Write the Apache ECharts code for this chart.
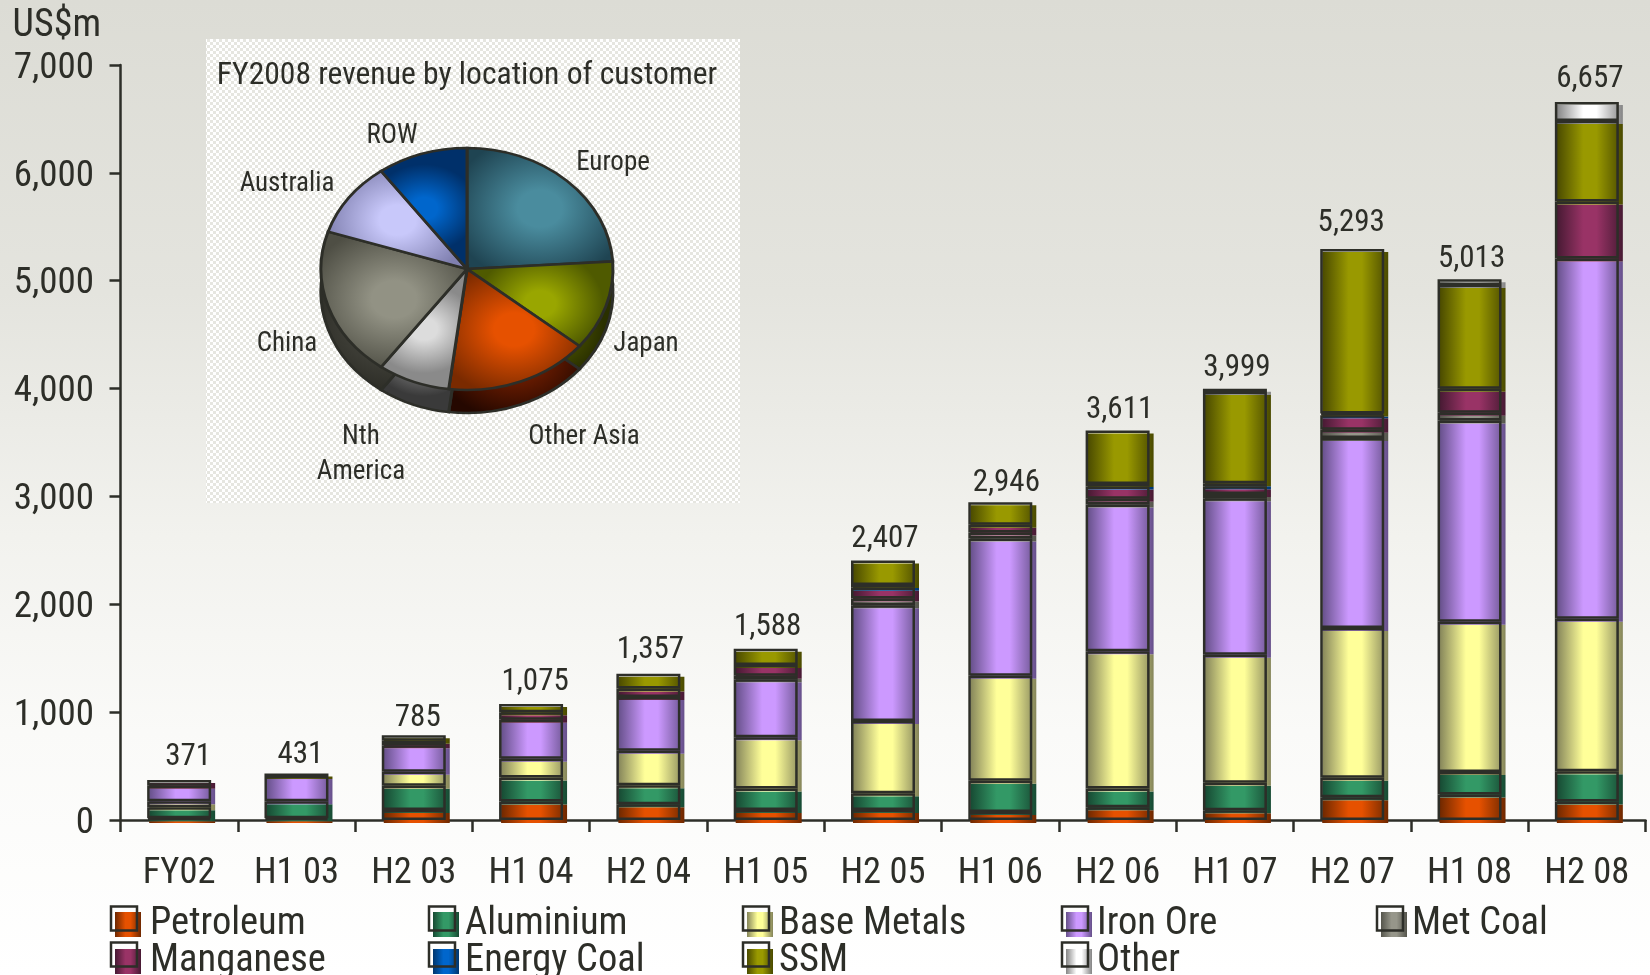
<!DOCTYPE html>
<html><head><meta charset="utf-8">
<style>html,body{margin:0;padding:0;background:#fff}#c{width:1650px;height:975px}</style>
<script src="https://cdn.jsdelivr.net/npm/echarts@6/dist/echarts.min.js"></script>
</head><body><div id="c"></div>
<script>
const categories = ['FY02','H1 03','H2 03','H1 04','H2 04','H1 05','H2 05','H1 06','H2 06','H1 07','H2 07','H1 08','H2 08'];
const totals     = [371,431,785,1075,1357,1588,2407,2946,3611,3999,5293,5013,6657];
const petroleum  = [16,16,93,171,146,93,93,75,118,90,211,236,171];
const aluminium  = [102,158,224,224,177,199,156,289,174,255,180,208,280];
const baseMetals = [56,0,131,174,320,476,669,973,1272,1188,1390,1393,1415];
const ironOre    = [143,233,246,361,498,538,1073,1273,1362,1449,1760,1866,3339];
const metCoal    = [0,0,0,0,0,31,62,56,53,40,78,72,0];
const manganese  = [54,0,40,68,78,100,100,72,112,72,134,224,529];
const energyCoal = [0,0,0,0,0,0,25,0,25,28,16,0,0];
const ssm        = [0,24,51,77,138,151,229,208,495,847,1524,961,746];
const other      = [0,0,0,0,0,0,0,0,0,30,0,53,177];
const pieNames  = ['Europe','Japan','Other Asia','Nth\nAmerica','China','Australia','ROW'];
const pieShares = [24,12,16,8,20,10,10];

const FONT = '"Roboto Condensed","Liberation Sans",sans-serif';
const INK = '#2d2e28';
const stackDefs = [
  ['Petroleum', petroleum, '#E65100', '#6e2800'],
  ['Aluminium', aluminium, '#339966', '#174a33'],
  ['Base Metals', baseMetals, '#FFFF99', '#85855a'],
  ['Iron Ore', ironOre, '#CC99FF', '#66508a'],
  ['Met Coal', metCoal, '#96968a', '#55554c'],
  ['Manganese', manganese, '#993366', '#471a33'],
  ['Energy Coal', energyCoal, '#0066CC', '#00366e'],
  ['SSM', ssm, '#999900', '#4a4a00'],
  ['Other', other, '#FFFFFF', '#858585']
];
const nn = a => a.map(v => v === 0 ? null : v);
const barFill = (c, e) => new echarts.graphic.LinearGradient(0,0,1,0,[
  {offset:0,color:e},{offset:.4,color:c},{offset:.6,color:c},{offset:1,color:e}]);

const plotW = 1525, plotH = 755, plotL = 120.5, plotT = 65;
const series = [];
stackDefs.forEach(([name, vals, c, e]) => {
  series.push({type:'bar', name, stack:'fill', xAxisIndex:1, yAxisIndex:1, data:nn(vals), barWidth:66,
    itemStyle:{color:barFill(c,e)}, silent:true, z:2});
});
stackDefs.forEach(([name, vals]) => {
  series.push({type:'bar', name, stack:'frame', xAxisIndex:0, yAxisIndex:0, data:nn(vals), barWidth:64,
    itemStyle:{color:'rgba(0,0,0,0)', borderColor:INK, borderWidth:2.5}, silent:true, z:3});
});
const labelNudgeX = [9,4,4,4,2,2,2,6,2,2,-1,2,3];
const labelNudgeY = [-1,3,4,0,-2,0,0,2,1,1,-4,1,-1];
series.push({type:'line', name:'Total', xAxisIndex:0, yAxisIndex:0,
  data:totals.map((v,i)=>({value:v, label:{offset:[labelNudgeX[i],labelNudgeY[i]]}})),
  symbol:'circle', symbolSize:0,
  lineStyle:{opacity:0}, itemStyle:{color:'rgba(0,0,0,0)'}, silent:true, z:4,
  label:{show:true, position:'top', distance:6, color:INK, fontFamily:FONT, fontSize:31,
    formatter:p => p.value.toLocaleString('en-US')}});

// inset pie
const pieCx = 467, pieCy = 269, pieRx = 146, pieRy = 121, pieDepth = 23;
const pieTop = [['#4a8c9e','#1f4452'],['#99a600','#4f5a00'],['#E65100','#7a2a00'],['#dcdcdc','#8a8a8a'],['#929284','#4e4e44'],['#c8c8fa','#8080b0'],['#0066CC','#00306a']];
const pieSide = [['#1f4452','#12303c'],['#5a6400','#2a3000'],['#7a2000','#250800'],['#8a8a8a','#3a3a3a'],['#4a4a42','#2a2a24'],['#6a6a90','#404060'],['#003a7a','#001a40']];
const pieLabelPos = [[613,163.5],[646,344.5],[584,437.5],[361,455],[287,344.5],[287,184.5],[392,136.5]];
const pieSum = pieShares.reduce((a,b)=>a+b,0);
function sliceAngles(i){
  let s = 0; for (let k=0;k<i;k++) s += pieShares[k];
  const a0 = -Math.PI/2 + s/pieSum*2*Math.PI;
  return [a0, a0 + pieShares[i]/pieSum*2*Math.PI];
}
function sector(i, dy, cols){
  const [a0,a1] = sliceAngles(i);
  return {type:'sector', x:pieCx, y:pieCy+dy, scaleY:pieRy/pieRx,
    shape:{cx:0,cy:0,r0:0,r:pieRx,startAngle:a0,endAngle:a1,clockwise:true},
    style:{fill:new echarts.graphic.RadialGradient(.5,.5,.6,[{offset:0,color:cols[0]},{offset:.25,color:cols[0]},{offset:1,color:cols[1]}]),
      stroke:INK, lineWidth:3}};
}
series.push({type:'custom', name:'PieSide', coordinateSystem:'none', data:pieShares, silent:true, z:5,
  renderItem:(p)=>sector(p.dataIndex, pieDepth, pieSide[p.dataIndex])});
series.push({type:'custom', name:'Pie', coordinateSystem:'none', data:pieShares, silent:true, z:6,
  renderItem:(p)=>{
    const i = p.dataIndex, pos = pieLabelPos[i];
    return {type:'group', children:[
      sector(i, 0, pieTop[i]),
      {type:'text', x:pos[0], y:pos[1], style:{text:pieNames[i], font:'27px '+FONT, fill:INK, align:'center', verticalAlign:'middle', lineHeight:35}}
    ]};
  }});

// legend layout
const legendCols = [111,429,743,1062,1377], legendRows = [905,942];
const legendFrameRows = [906.5,942.5];
const legendTextGap = [4,1,1,0,0];
const legendGrid = [[0,0],[1,0],[2,0],[3,0],[4,0],[0,1],[1,1],[2,1],[3,1]];
const legendOrder = ['Petroleum','Aluminium','Base Metals','Iron Ore','Met Coal','Manganese','Energy Coal','SSM','Other'];
const legends = legendOrder.map((n,i)=>({
  left:legendCols[legendGrid[i][0]]+4, top:legendRows[legendGrid[i][1]], data:[n], padding:0, icon:'rect',
  itemWidth:26, itemHeight:25, selectedMode:false,
  textStyle:{color:INK, fontFamily:FONT, fontSize:38.5, lineHeight:25, padding:[0,0,0,legendTextGap[legendGrid[i][0]]]}
}));
const swatchFrames = legendOrder.map((n,i)=>({type:'rect', z:20,
  shape:{x:legendCols[legendGrid[i][0]], y:legendFrameRows[legendGrid[i][1]], width:26, height:24},
  style:{fill:'rgba(0,0,0,0)', stroke:INK, lineWidth:2.5}}));

// dotted inset texture
const tile = document.createElement('canvas'); tile.width = 6; tile.height = 6;
const tc = tile.getContext('2d');
tc.fillStyle = '#ffffff'; tc.fillRect(0,0,6,6);
tc.fillStyle = '#e6e6e0'; tc.fillRect(0,0,3,3); tc.fillRect(3,3,3,3);

const axisStyle = {lineStyle:{color:INK, width:2.5}};
const option = {
  animation:false,
  backgroundColor:new echarts.graphic.LinearGradient(0,0,0,1,[
    {offset:0,color:'#dcdcd5'},{offset:.3,color:'#e4e4de'},{offset:.55,color:'#f2f2ee'},{offset:.75,color:'#fafaf8'},{offset:1,color:'#ffffff'}]),
  grid:[
    {left:plotL, top:plotT, width:plotW, height:plotH},
    {left:plotL+3, top:plotT+3, width:plotW, height:plotH}
  ],
  xAxis:[
    {type:'category', gridIndex:0, data:categories, axisLine:{show:true, ...axisStyle}, axisTick:{show:true, length:12, ...axisStyle},
     axisLabel:{color:INK, fontFamily:FONT, fontSize:36.5, margin:35, interval:0}},
    {type:'category', gridIndex:1, data:categories, show:false}
  ],
  yAxis:[
    {type:'value', gridIndex:0, min:0, max:7000, interval:1000, splitLine:{show:false},
     name:'US$m', nameLocation:'end', nameGap:20, nameTextStyle:{color:INK, fontFamily:FONT, fontSize:38, align:'right', padding:[0,19.5,0,0]},
     axisLine:{show:true, onZero:false, ...axisStyle}, axisTick:{show:true, length:11, ...axisStyle},
     axisLabel:{color:INK, fontFamily:FONT, fontSize:37, margin:26.5, verticalAlign:'top', lineHeight:7, formatter:v=>v.toLocaleString('en-US')}},
    {type:'value', gridIndex:1, min:0, max:7000, interval:1000, show:false}
  ],
  legend:legends,
  series,
  graphic:[
    {type:'rect', z:0, shape:{x:206,y:39,width:534,height:464}, style:{fill:{image:tile,repeat:'repeat'}}},
    {type:'text', z:10, x:467, y:76, style:{text:'FY2008 revenue by location of customer', font:'31.6px '+FONT, fill:INK, align:'center', verticalAlign:'middle'}},
    ...swatchFrames
  ]
};
const chart = echarts.init(document.getElementById('c'), null, {renderer:'canvas', width:1650, height:975});
chart.setOption(option);
</script></body></html>
